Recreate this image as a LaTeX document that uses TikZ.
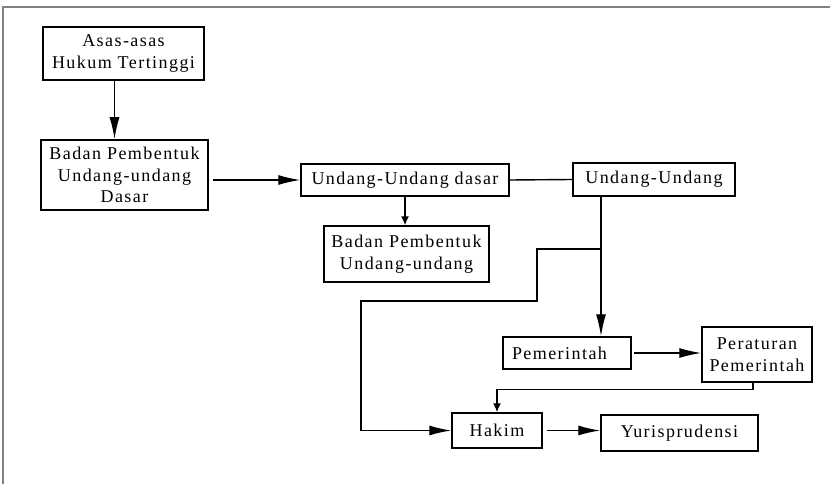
\documentclass[tikz,border=0pt]{standalone}
\usepackage{fontspec}
\setmainfont[LetterSpace=8]{Liberation Serif}
\usetikzlibrary{arrows.meta}

\begin{document}
\begin{tikzpicture}[x=1pt,y=-1pt,
    box/.style={draw,line width=1.5pt,inner sep=2pt,align=center,
                font=\fontsize{18}{21.5}\selectfont},
    arr/.style={line width=1.4pt,-{Latex[length=22pt,width=10pt]}},
    sarr/.style={line width=1.4pt,-{Latex[length=9pt,width=8pt]}},
    ln/.style={line width=1.4pt}]
   \useasboundingbox (0,0) rectangle (830,484);
   \draw[gray,line width=2pt] (3,484) -- (3,7) -- (830,7);

   \node[box,minimum width=161,minimum height=53] (asas) at (123.5,53.5) {Asas-asas\\Hukum Tertinggi};
   \node[box,minimum width=167,minimum height=70] (bpuud) at (124.5,175) {Badan Pembentuk\\Undang-undang\\Dasar};
   \node[box,minimum width=208,minimum height=32] (uud) at (405,180) {Undang-Undang dasar};
   \node[box,minimum width=162,minimum height=33] (uu) at (654,179.5) {Undang-Undang};
   \node[box,minimum width=165,minimum height=56] (bpuu) at (406.5,254) {Badan Pembentuk\\Undang-undang};
   \node[box,minimum width=128,minimum height=32,text width=110,align=left] (pem) at (567,353) {Pemerintah};
   \node[box,minimum width=110,minimum height=55] (pp) at (757,354.5) {Peraturan\\Pemerintah};
   \node[box,minimum width=90,minimum height=35] (hakim) at (497,430.5) {Hakim};
   \node[box,minimum width=157,minimum height=36] (yuris) at (679.5,433) {Yurisprudensi};

   \coordinate (split) at (601,249);

   \draw[arr] ([xshift=-9pt]asas.south) -- ([xshift=-9pt]asas.south |- bpuud.north);
   \draw[arr] ([xshift=4pt]bpuud.east |- uud.west) -- (uud.west);
   \draw[ln] (uud.east) -- (uu.west);
   \draw[sarr] (uud.south) -- (uud.south |- bpuu.north);
   \draw[arr] (uu.south -| split) -- (split |- pem.north);
   \draw[arr] (split) -| (537,301) -| (361,430.5) -- (hakim.west);
   \draw[arr] ([xshift=2pt]pem.east) -- (pem.east -| pp.west);
   \draw[sarr] ([xshift=-4pt]pp.south) -- ++(0,7) -| (hakim.north);
   \draw[arr] ([xshift=4pt]hakim.east) -- (hakim.east -| yuris.west);
\end{tikzpicture}
\end{document}
